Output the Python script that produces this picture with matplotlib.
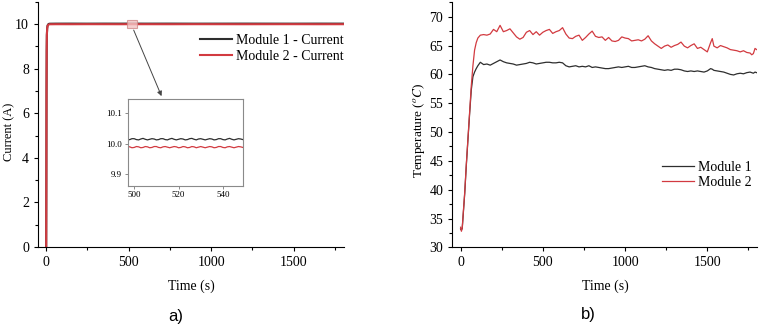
import numpy as np
import matplotlib
matplotlib.use('Agg')
import matplotlib.pyplot as plt
from matplotlib.patches import Rectangle
from matplotlib.ticker import MultipleLocator, FormatStrFormatter

plt.rcParams['font.family'] = ['Liberation Serif', 'DejaVu Serif']
plt.rcParams['mathtext.fontset'] = 'stix'

# ---- panel a) current ----
cur_head_t = [0, 1, 2, 3, 4, 6, 8, 11, 15, 20, 60, 150, 250, 350, 450, 490]
cur1_head = [0, 3.0, 7.0, 8.8, 9.5, 9.8, 9.92, 9.97, 10.0, 10.01, 10.014, 10.015, 10.013, 10.015, 10.014, 10.015]
cur2_head = [0, 3.0, 7.0, 8.8, 9.5, 9.8, 9.9, 9.95, 9.97, 9.985, 9.988, 9.987, 9.989, 9.988, 9.987, 9.988]

zoom_t = np.arange(494, 551)
cur1_zoom = [10.014, 10.016, 10.015, 10.012, 10.013, 10.016, 10.016, 10.013, 10.012, 10.015,
             10.017, 10.014, 10.012, 10.014, 10.016, 10.015, 10.012, 10.013, 10.016, 10.016,
             10.013, 10.012, 10.015, 10.017, 10.014, 10.012, 10.014, 10.016, 10.015, 10.012,
             10.013, 10.016, 10.017, 10.014, 10.012, 10.015, 10.016, 10.014, 10.012, 10.014,
             10.016, 10.015, 10.012, 10.013, 10.016, 10.016, 10.013, 10.012, 10.015, 10.017,
             10.014, 10.012, 10.014, 10.016, 10.015, 10.013, 10.015]
cur2_zoom = [9.988, 9.986, 9.988, 9.990, 9.989, 9.986, 9.987, 9.990, 9.989, 9.986,
             9.987, 9.990, 9.989, 9.986, 9.987, 9.990, 9.990, 9.987, 9.986, 9.989,
             9.990, 9.988, 9.986, 9.988, 9.990, 9.989, 9.986, 9.987, 9.990, 9.989,
             9.986, 9.987, 9.990, 9.989, 9.986, 9.988, 9.990, 9.988, 9.986, 9.988,
             9.990, 9.989, 9.986, 9.987, 9.990, 9.990, 9.987, 9.986, 9.989, 9.990,
             9.988, 9.986, 9.988, 9.990, 9.989, 9.987, 9.988]

cur_tail_t = [600, 750, 900, 1050, 1200, 1350, 1500, 1650, 1800]
cur1_tail = [10.014, 10.015, 10.013, 10.014, 10.015, 10.014, 10.013, 10.015, 10.014]
cur2_tail = [9.988, 9.987, 9.989, 9.988, 9.987, 9.988, 9.989, 9.987, 9.988]

cur_t = np.concatenate([cur_head_t, zoom_t, cur_tail_t])
cur1 = np.concatenate([cur1_head, cur1_zoom, cur1_tail])
cur2 = np.concatenate([cur2_head, cur2_zoom, cur2_tail])

# ---- panel b) temperature ----
temp_t = [0, 5, 10, 15, 25, 35, 45, 55, 65, 75, 85, 95, 105, 120,
          140, 160, 180, 200, 220, 240, 260, 280, 300, 320, 340, 360, 380, 400,
          420, 440, 460, 480, 500, 520, 540, 560, 580, 600, 620, 640, 660, 680,
          700, 720, 740, 760, 780, 800, 820, 840, 860, 880, 900, 920, 940, 960,
          980, 1000, 1020, 1040, 1060, 1080, 1100, 1120, 1140, 1160, 1180, 1200,
          1220, 1240, 1260, 1280, 1300, 1320, 1340, 1360, 1380, 1400, 1420, 1440,
          1460, 1480, 1500, 1520, 1530, 1540, 1560, 1580, 1600, 1620, 1640, 1660,
          1680, 1700, 1720, 1740, 1760, 1770, 1780, 1790, 1800]
temp2 = [33.5, 32.8, 33.4, 35.5, 39.5, 44.5, 49.0, 53.5, 58.0, 61.5, 64.2, 65.5, 66.3, 66.8,
         66.9, 66.8, 67.0, 67.8, 67.4, 68.5, 67.4, 67.6, 67.9, 67.2, 66.5, 66.1, 66.4, 67.3,
         67.6, 66.9, 67.4, 66.8, 67.3, 67.6, 67.8, 67.1, 67.4, 67.6, 68.1, 67.0, 66.3, 66.2,
         66.6, 66.8, 65.9, 66.4, 67.0, 67.5, 66.6, 66.4, 66.5, 65.9, 66.4, 65.8, 65.7, 65.9,
         66.5, 66.3, 66.2, 65.8, 65.9, 66.0, 65.8, 66.1, 66.7, 65.8, 65.3, 64.9,
         64.5, 64.9, 65.1, 64.7, 65.0, 65.2, 65.6, 64.9, 64.6, 65.0, 65.3, 64.5,
         64.7, 64.3, 63.9, 65.5, 66.2, 64.9, 64.6, 65.0, 64.8, 64.6, 64.3, 64.2,
         64.1, 63.9, 64.1, 63.8, 63.7, 63.4, 63.6, 64.5, 64.3]
temp1 = [33.2, 33.0, 33.3, 35.3, 39.3, 44.3, 48.8, 53.2, 57.3, 59.6, 60.4, 61.0, 61.5, 62.1,
         61.7, 61.8, 61.6, 61.9, 62.2, 62.5, 62.2, 62.0, 61.9, 61.8, 61.6, 61.7, 61.8, 61.9,
         62.1, 62.0, 61.8, 61.9, 62.0, 62.1, 62.1, 62.0, 62.0, 62.1, 62.0, 61.5, 61.3, 61.4,
         61.5, 61.3, 61.4, 61.3, 61.5, 61.2, 61.3, 61.2, 61.1, 61.0, 61.0, 61.1, 61.2, 61.3,
         61.2, 61.3, 61.4, 61.2, 61.2, 61.3, 61.4, 61.5, 61.3, 61.2, 61.0, 60.9,
         60.8, 60.7, 60.8, 60.7, 60.9, 60.9, 60.8, 60.6, 60.5, 60.6, 60.5, 60.6,
         60.5, 60.4, 60.6, 61.0, 60.9, 60.7, 60.6, 60.5, 60.4, 60.2, 60.0, 59.9,
         60.1, 60.2, 60.1, 60.3, 60.4, 60.3, 60.2, 60.4, 60.3]

c_black = '#2e2e2e'
c_red = '#d23a40'

fig = plt.figure(figsize=(7.59, 3.26), dpi=100)
ax1 = fig.add_axes([0.050, 0.242, 0.403, 0.753])
ax2 = fig.add_axes([0.596, 0.241, 0.402, 0.752])


def style(ax):
    for s in ['top', 'right']:
        ax.spines[s].set_visible(False)
    ax.tick_params(which='major', direction='out', length=3, width=0.8, labelsize=10)
    ax.tick_params(which='minor', direction='out', length=2, width=0.8)
    ax.xaxis.set_major_locator(MultipleLocator(500))
    ax.xaxis.set_minor_locator(MultipleLocator(250))
    ax.set_xlim(-50, 1805)


ax1.plot(cur_t, cur1, color=c_black, lw=1.5, label='Module 1 - Current')
ax1.plot(cur_t, cur2, color=c_red, lw=1.5, label='Module 2 - Current')
style(ax1)
ax1.set_ylim(0, 11)
ax1.yaxis.set_major_locator(MultipleLocator(2))
ax1.yaxis.set_minor_locator(MultipleLocator(1))
ax1.set_xlabel('Time (s)', fontsize=10)
ax1.set_ylabel('Current (A)', fontsize=9)
ax1.xaxis.set_label_coords(0.5, -0.13)
ax1.yaxis.set_label_coords(-0.075, 0.47)
ax1.legend(loc='upper right', bbox_to_anchor=(1.0, 0.869), frameon=False, fontsize=10,
           handlelength=2.3, handletextpad=0.3, labelspacing=0.25, borderpad=0, borderaxespad=0)

ax1.add_patch(Rectangle((490, 9.84), 60, 0.32, facecolor='#f3c4c4', edgecolor='#d08a8a',
                        lw=0.8, alpha=0.8, zorder=5))
ax1.annotate('', xy=(706, 6.65), xytext=(524, 9.84),
             arrowprops=dict(arrowstyle='-|>', color='#444444', lw=0.7, mutation_scale=7))

ins = fig.add_axes([0.168, 0.430, 0.152, 0.266])
ins.plot(cur_t, cur1, color=c_black, lw=0.9)
ins.plot(cur_t, cur2, color=c_red, lw=0.9)
ins.set_xlim(497, 549)
ins.set_ylim(9.86, 10.147)
ins.set_xticks([500, 520, 540])
ins.set_yticks([9.9, 10.0, 10.1])
ins.yaxis.set_major_formatter(FormatStrFormatter('%.1f'))
ins.tick_params(labelsize=6.5, length=2, width=0.6, color='#777777', pad=2)
for s in ins.spines.values():
    s.set_color('#8a8a8a')
    s.set_linewidth(0.8)

ax2.plot(temp_t, temp1, color=c_black, lw=0.9, label='Module 1')
ax2.plot(temp_t, temp2, color=c_red, lw=0.9, label='Module 2')
style(ax2)
ax2.set_ylim(30, 72.5)
ax2.yaxis.set_major_locator(MultipleLocator(5))
ax2.yaxis.set_minor_locator(MultipleLocator(2.5))
ax2.set_xlabel('Time (s)', fontsize=10)
ax2.set_ylabel('Temperature ($^{o}C$)', fontsize=9.5)
ax2.xaxis.set_label_coords(0.5, -0.13)
ax2.yaxis.set_label_coords(-0.084, 0.48)
ax2.legend(loc='upper right', bbox_to_anchor=(0.98, 0.354), frameon=False, fontsize=10,
           handlelength=2.3, handletextpad=0.3, labelspacing=0.15, borderpad=0, borderaxespad=0)

fig.text(176 / 759, 1 - 316 / 326, 'a)', family='Liberation Sans', fontsize=12,
         ha='center', va='center')
fig.text(588 / 759, 1 - 315 / 326, 'b)', family='Liberation Sans', fontsize=12,
         ha='center', va='center')

fig.savefig('out.png', dpi=100)
